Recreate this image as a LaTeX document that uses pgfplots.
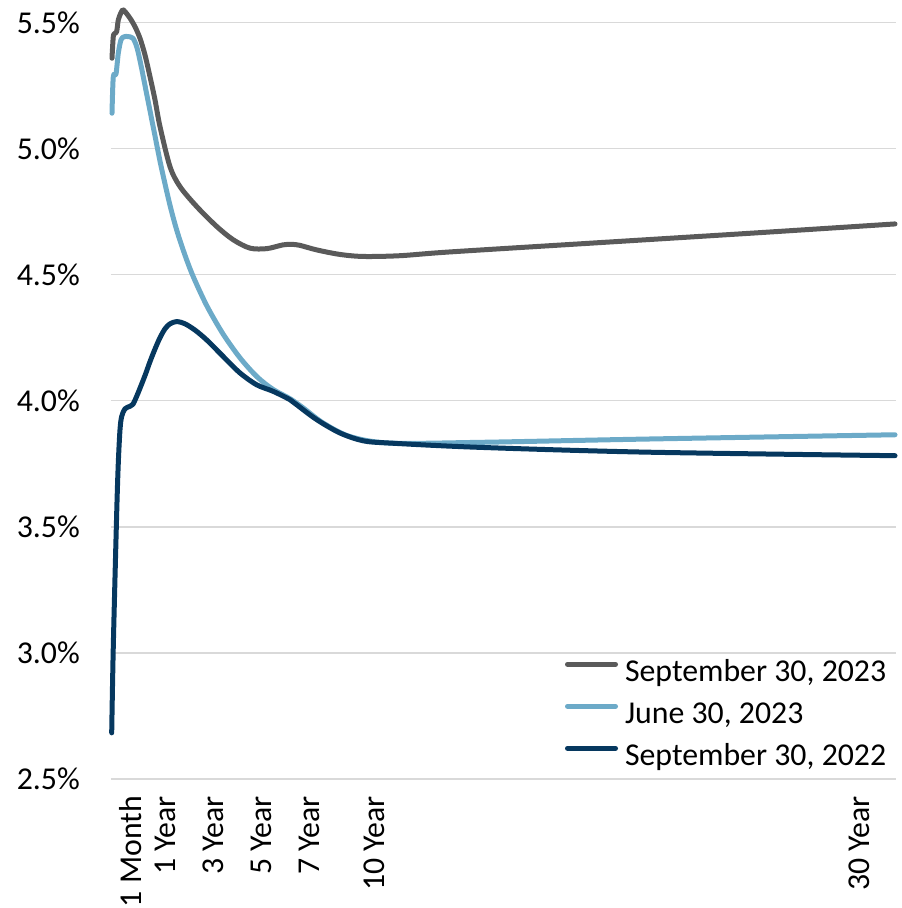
\documentclass[border=0pt]{standalone}
\usepackage{fontspec}
\setmainfont{Carlito}
\usepackage{pgfplots}
\pgfplotsset{compat=1.18}
\definecolor{cgray}{HTML}{5A5A5A}
\definecolor{clight}{HTML}{6CAAC8}
\definecolor{cdark}{HTML}{06385F}
\definecolor{cgrid}{HTML}{D9D9D9}
\begin{document}
\begin{tikzpicture}
\begin{axis}[
 scale only axis, width=785bp, height=779bp,
 xmin=111, xmax=896, ymin=2.5, ymax=5.589,
 axis line style={draw=none},
 major tick length=0pt,
 ymajorgrids, grid style={cgrid, line width=1.5bp},
 ytick={2.5,3.0,3.5,4.0,4.5,5.0,5.5},
 yticklabels={2.5\%,3.0\%,3.5\%,4.0\%,4.5\%,5.0\%,5.5\%},
 xtick={131,165,213,261,309,374,859},
 xticklabels={1 Month,1 Year,3 Year,5 Year,7 Year,10 Year,30 Year},
 tick label style={font=\fontsize{31.8bp}{38bp}\selectfont, inner sep=0pt},
 yticklabel style={anchor=east, xshift=-31bp},
 xticklabel style={yshift=-17bp, rotate=90, anchor=east},
 clip=false,
 legend style={draw=none, fill=none, inner sep=0pt, outer sep=0pt,
   at={(axis cs:565,2.981)}, anchor=north west, row sep=11bp, column sep=7bp,
   font=\fontsize{31.8bp}{38bp}\selectfont,
   nodes={inner sep=0pt, text height=24bp, text depth=7bp}},
 legend cell align=left,
 legend image code/.code={\draw[#1, line width=5bp, line cap=round] (0bp,9bp) -- (48bp,9bp);},
 every axis plot/.append style={line width=5bp, line join=round, line cap=round},
]
\addplot[cgray, smooth] coordinates {
(112,5.358) (113.3,5.444) (115,5.457) (116.7,5.464) (118.3,5.51) (120.7,5.536)
(122.7,5.55) (125,5.543) (130,5.517) (135,5.483) (140,5.437) (145,5.371)
(150,5.285) (155,5.193) (160,5.087) (170,4.928) (180,4.849) (196.7,4.770)
(216.7,4.691) (233.3,4.638) (250,4.605) (266.7,4.603) (283,4.618) (292,4.620)
(300,4.616) (316.7,4.598) (340,4.580) (363.3,4.572) (400,4.575) (450,4.590)
(600,4.627) (750,4.664) (895,4.701)};
\addlegendentry{September 30, 2023}
\addplot[clight, smooth] coordinates {
(112,5.140) (113.3,5.285) (116,5.296) (118.3,5.378) (121,5.431) (124,5.443)
(128,5.444) (133,5.437) (137,5.400) (141,5.330) (145,5.250) (150,5.150)
(155,5.050) (160,4.950) (165,4.860) (170,4.775) (175,4.700) (180,4.635)
(187,4.555) (194,4.485) (207,4.375) (223,4.265) (240,4.170) (257,4.095)
(273,4.045) (290,4.008) (303,3.972) (323,3.912) (350,3.858) (390,3.832)
(480,3.835) (646.7,3.848) (895,3.865)};
\addlegendentry{June 30, 2023}
\addplot[cdark, smooth] coordinates {
(111.7,2.683) (113.3,3.026) (116.7,3.555) (118.3,3.753) (120,3.885) (121.7,3.938)
(125,3.968) (130,3.978) (133,3.986) (138,4.030) (145,4.100) (150,4.155)
(155,4.205) (160,4.250) (165,4.285) (170,4.305) (177,4.314) (185,4.305)
(195,4.280) (206.7,4.241) (223.3,4.175) (240,4.110) (256.7,4.063) (273.3,4.037)
(290,4.004) (296.7,3.984) (316.7,3.925) (340,3.872) (363.3,3.841) (390,3.832)
(480,3.815) (646.7,3.796) (895,3.782)};
\addlegendentry{September 30, 2022}
\end{axis}
\pgfresetboundingbox
\path[use as bounding box] ([shift={(-111bp,-129bp)}]current axis.south west) rectangle ([shift={(6bp,0bp)}]current axis.north east);
\end{tikzpicture}
\end{document}
